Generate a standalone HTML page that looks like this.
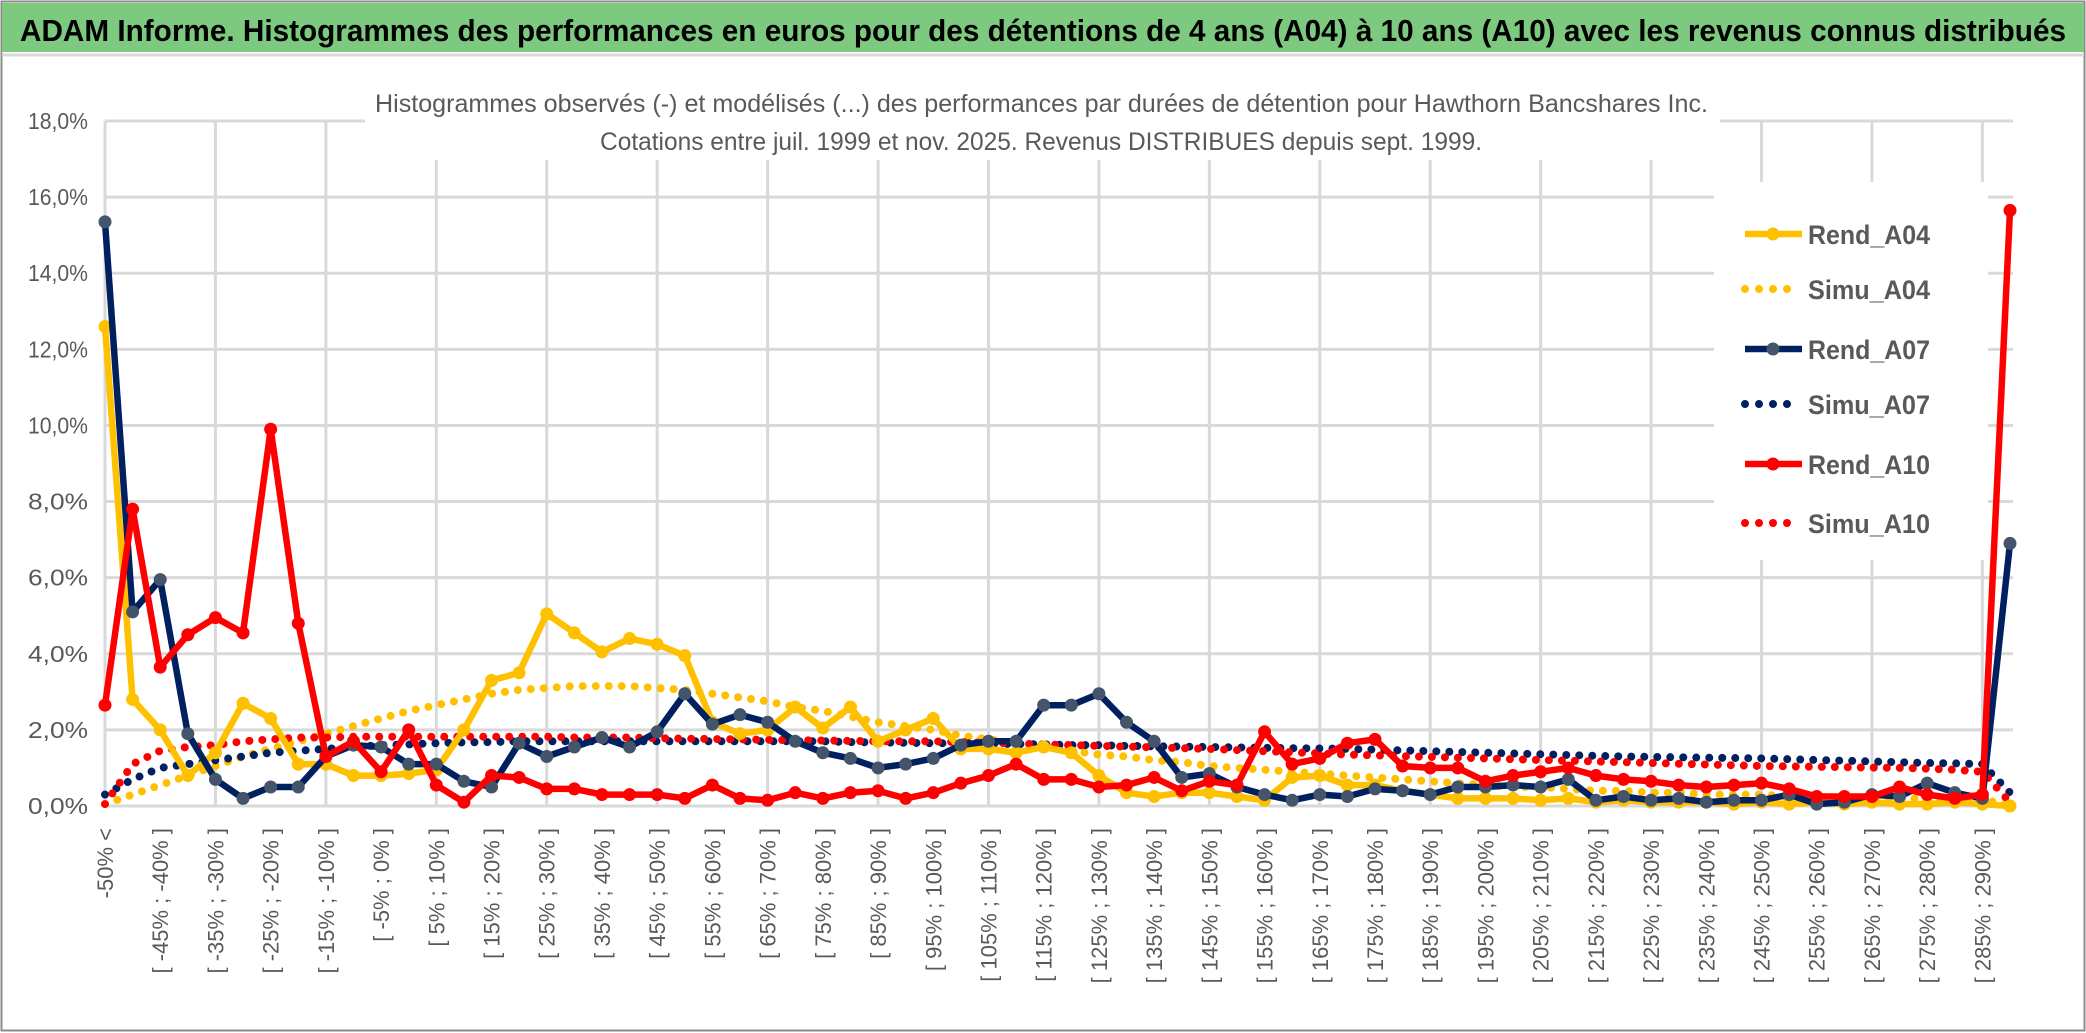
<!DOCTYPE html>
<html><head><meta charset="utf-8"><style>
html,body{margin:0;padding:0;background:#fff;}
svg{display:block;}
text{font-family:"Liberation Sans",sans-serif;}
</style></head><body>
<svg id="chart" width="2086" height="1033" viewBox="0 0 2086 1033" xmlns="http://www.w3.org/2000/svg">
<rect x="0" y="0" width="2086" height="1033" fill="#fff"/>
<rect x="1.5" y="1.5" width="2083" height="1029" fill="none" stroke="#8c8c8c" stroke-width="2"/>
<rect x="2" y="3" width="2082" height="49" fill="#7dc97f"/>
<line x1="2" y1="55" x2="2084" y2="55" stroke="#d9d9d9" stroke-width="3"/>
<text x="20" y="41" font-size="31" font-weight="bold" fill="#000" textLength="2046" lengthAdjust="spacingAndGlyphs">ADAM Informe. Histogrammes des performances en euros pour des détentions de 4 ans (A04) à 10 ans (A10) avec les revenus connus distribués</text>
<g id="grid"></g>
<rect x="1714" y="182" width="274" height="378" fill="#fff"/>
<rect x="365" y="80" width="1355" height="80" fill="#fff"/>
<g id="series"></g>
<g id="legend"></g>
<text x="375" y="112" font-size="25" fill="#595959" textLength="1333" lengthAdjust="spacingAndGlyphs">Histogrammes observés (-) et modélisés (...) des performances par durées de détention pour Hawthorn Bancshares Inc.</text>
<text x="600" y="150" font-size="25" fill="#595959" textLength="882" lengthAdjust="spacingAndGlyphs">Cotations entre juil. 1999 et nov. 2025. Revenus DISTRIBUES depuis sept. 1999.</text>
<g id="axes"></g>
</svg>
<script>
const categories = ["-50% <"];
for (let k = 1; k < 70; k++) categories.push("[ " + (-55 + 5 * k) + "% ; " + (-50 + 5 * k) + "% ]");
const yTicks = [0, 2, 4, 6, 8, 10, 12, 14, 16, 18];
const rendA04 = [12.6,2.8,2.0,0.8,1.4,2.7,2.3,1.1,1.1,0.8,0.8,0.85,0.95,2.0,3.3,3.5,5.05,4.55,4.05,4.4,4.25,3.95,2.2,1.9,2.0,2.6,2.05,2.6,1.7,2.0,2.3,1.5,1.5,1.4,1.55,1.4,0.8,0.35,0.25,0.35,0.35,0.25,0.15,0.75,0.8,0.55,0.55,0.4,0.3,0.2,0.2,0.2,0.15,0.2,0.1,0.15,0.1,0.1,0.1,0.05,0.1,0.05,0.1,0.05,0.1,0.05,0.05,0.1,0.05,0.0];
const simuA04 = [0.05,0.3,0.55,0.8,1.05,1.3,1.5,1.7,1.9,2.1,2.3,2.5,2.65,2.8,2.95,3.05,3.1,3.15,3.15,3.15,3.1,3.05,2.95,2.85,2.75,2.6,2.5,2.35,2.2,2.1,2.0,1.85,1.75,1.65,1.55,1.45,1.35,1.3,1.2,1.15,1.05,1.0,0.95,0.9,0.85,0.8,0.75,0.7,0.65,0.6,0.55,0.5,0.5,0.45,0.4,0.4,0.35,0.35,0.3,0.3,0.3,0.25,0.25,0.2,0.2,0.2,0.2,0.15,0.15,0.05];
const rendA07 = [15.35,5.1,5.95,1.9,0.7,0.2,0.5,0.5,1.3,1.6,1.55,1.1,1.1,0.65,0.5,1.65,1.3,1.55,1.8,1.55,1.95,2.95,2.15,2.4,2.2,1.7,1.4,1.25,1.0,1.1,1.25,1.6,1.7,1.7,2.65,2.65,2.95,2.2,1.7,0.75,0.85,0.5,0.3,0.15,0.3,0.25,0.45,0.4,0.3,0.5,0.5,0.55,0.5,0.7,0.15,0.25,0.15,0.2,0.1,0.15,0.15,0.3,0.05,0.1,0.3,0.25,0.6,0.35,0.2,6.9];
const simuA07 = [0.3,0.7,1.0,1.1,1.2,1.3,1.4,1.45,1.5,1.55,1.6,1.62,1.65,1.67,1.68,1.7,1.7,1.7,1.7,1.7,1.7,1.7,1.7,1.7,1.7,1.7,1.7,1.68,1.67,1.66,1.65,1.65,1.64,1.63,1.62,1.6,1.6,1.58,1.57,1.56,1.55,1.54,1.53,1.52,1.51,1.5,1.48,1.46,1.44,1.42,1.4,1.38,1.36,1.34,1.32,1.3,1.29,1.28,1.27,1.26,1.25,1.23,1.21,1.19,1.17,1.15,1.13,1.12,1.1,0.35];
const rendA10 = [2.65,7.8,3.65,4.5,4.95,4.55,9.9,4.8,1.3,1.7,0.9,2.0,0.55,0.1,0.8,0.75,0.45,0.45,0.3,0.3,0.3,0.2,0.55,0.2,0.15,0.35,0.2,0.35,0.4,0.2,0.35,0.6,0.8,1.1,0.7,0.7,0.5,0.55,0.75,0.4,0.65,0.55,1.95,1.1,1.25,1.65,1.75,1.05,1.0,1.0,0.65,0.8,0.9,1.0,0.8,0.7,0.65,0.55,0.5,0.55,0.6,0.45,0.25,0.25,0.25,0.5,0.3,0.2,0.3,15.65];
const simuA10 = [0.05,1.1,1.45,1.55,1.6,1.7,1.75,1.8,1.8,1.82,1.82,1.82,1.82,1.82,1.82,1.82,1.82,1.8,1.8,1.8,1.78,1.77,1.76,1.75,1.74,1.73,1.72,1.71,1.7,1.7,1.7,1.68,1.66,1.64,1.62,1.6,1.58,1.56,1.54,1.52,1.5,1.47,1.44,1.41,1.38,1.35,1.33,1.31,1.29,1.27,1.25,1.23,1.21,1.19,1.17,1.15,1.13,1.11,1.09,1.07,1.05,1.04,1.03,1.02,1.01,1.0,0.98,0.95,0.9,0.1];
const seriesNames = ["Rend_A04","Simu_A04","Rend_A07","Simu_A07","Rend_A10","Simu_A10"];

const NS = "http://www.w3.org/2000/svg";
const X0 = 105, X1 = 2010, Y0 = 806, YTOP = 121, YMAX = 18;
function xPos(i){ return X0 + (X1 - X0) * i / (categories.length - 1); }
function yPos(v){ return Y0 - (Y0 - YTOP) * v / YMAX; }
function mk(tag, attrs, parent){ const e = document.createElementNS(NS, tag); for (const k in attrs) e.setAttribute(k, attrs[k]); parent.appendChild(e); return e; }

const grid = document.getElementById("grid");
yTicks.forEach(t => {
  const l = mk("line", {x1: X0, x2: X1 + 3, y1: yPos(t), y2: yPos(t), stroke: "#d9d9d9", "stroke-width": 3}, grid);
  
  
});
for (let i = 0; i < categories.length; i += 4) {
  const l = mk("line", {x1: xPos(i), x2: xPos(i), y1: YTOP, y2: Y0, stroke: "#d9d9d9", "stroke-width": 3}, grid);
  
  
}
const axes = document.getElementById("axes");
yTicks.forEach(t => {
  const tx = mk("text", {x: 88, y: yPos(t) + 8, "font-size": 23, fill: "#595959", "text-anchor": "end", textLength: 60, lengthAdjust: "spacingAndGlyphs"}, axes);
  tx.textContent = t.toFixed(1).replace(".", ",") + "%";
  
  
});
for (let i = 0; i < categories.length - 1; i += 2) {
  const x = xPos(i) + 8, y = 828;
  const tx = mk("text", {x: x, y: y, "font-size": 22, fill: "#595959", "text-anchor": "end", transform: "rotate(-90 " + x + " " + y + ")"}, axes);
  tx.textContent = categories[i];
  
  
}

const series = document.getElementById("series");
function pts(arr){ return arr.map((v, i) => xPos(i).toFixed(1) + "," + yPos(v).toFixed(1)).join(" "); }
function dotted(arr, color, name){
  const p = mk("polyline", {points: pts(arr), fill: "none", stroke: color, "stroke-width": 8, "stroke-linecap": "round", "stroke-dasharray": "0 13"}, series);
  
  
}
function solid(arr, color, mcol, name){
  const p = mk("polyline", {points: pts(arr), fill: "none", stroke: color, "stroke-width": 6.5, "stroke-linejoin": "round"}, series);
  
  
  arr.forEach((v, i) => {
    const c = mk("circle", {cx: xPos(i), cy: yPos(v), r: 6.5, fill: mcol}, series);
    
    
  });
}
dotted(simuA04, "#ffc000", "simu-a04-line");
dotted(simuA07, "#002060", "simu-a07-line");
dotted(simuA10, "#ff0000", "simu-a10-line");
solid(rendA04, "#ffc000", "#ffc000", "rend-a04-line");
solid(rendA07, "#002060", "#44546a", "rend-a07-line");
solid(rendA10, "#ff0000", "#ff0000", "rend-a10-line");

const legend = document.getElementById("legend");
const legStyles = [["#ffc000","#ffc000",false],["#ffc000",null,true],["#002060","#44546a",false],["#002060",null,true],["#ff0000","#ff0000",false],["#ff0000",null,true]];
const legY = [234, 289, 349, 404, 464, 523];
seriesNames.forEach((n, i) => {
  const y = legY[i], s = legStyles[i];
  const g = mk("g", {}, legend);
  
  
  if (s[2]) {
    mk("line", {x1: 1745, x2: 1800, y1: y, y2: y, stroke: s[0], "stroke-width": 8, "stroke-linecap": "round", "stroke-dasharray": "0 14"}, g);
  } else {
    mk("line", {x1: 1745, x2: 1802, y1: y, y2: y, stroke: s[0], "stroke-width": 6.5}, g);
    mk("circle", {cx: 1773, cy: y, r: 6.5, fill: s[1]}, g);
  }
  const t = mk("text", {x: 1808, y: y + 10, "font-size": 27, "font-weight": "bold", fill: "#595959", textLength: 122, lengthAdjust: "spacingAndGlyphs"}, g);
  t.textContent = n;
});
</script>
</body></html>
